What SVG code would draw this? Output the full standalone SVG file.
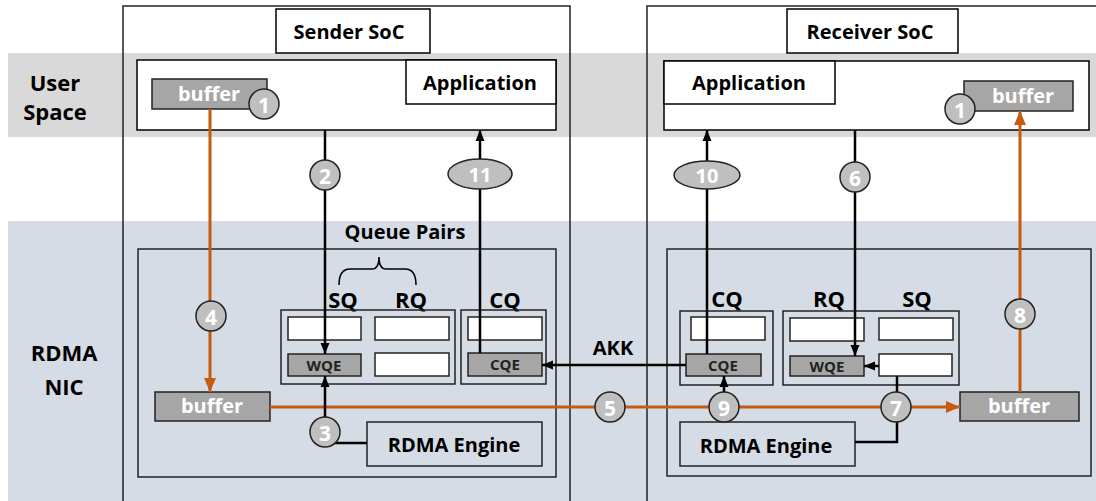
<svg xmlns="http://www.w3.org/2000/svg" width="1096" height="501" viewBox="0 0 1096 501">
<style>
text{font-family:"Open Sans","Liberation Sans",sans-serif;font-weight:bold;text-anchor:middle;dominant-baseline:central}
.lbl{font-size:20px;fill:#000}
.big{font-size:22px;fill:#000}
.small{font-size:15px;fill:#222}
.wt{font-size:20px;fill:#fff}
.nm{font-size:21px;fill:#fff}
.box{fill:#fff;stroke:#000;stroke-width:1.5}
.frame{fill:none;stroke:#222;stroke-width:1.5}
.gbox{fill:#a6a6a6;stroke:#222;stroke-width:1.5}
.wbox{fill:#fff;stroke:#222;stroke-width:1.5}
.num{fill:#bfbfbf;stroke:#222;stroke-width:1.5}
.blk{fill:none;stroke:#000;stroke-width:2.5}
.org{fill:none;stroke:#c55a11;stroke-width:3}
</style>
<defs>
<marker id="ab" markerUnits="userSpaceOnUse" markerWidth="11" markerHeight="10" refX="11" refY="5" orient="auto"><path d="M0,0.5 L11,5 L0,9.5 z" fill="#000"/></marker>
<marker id="ao" markerUnits="userSpaceOnUse" markerWidth="14" markerHeight="12" refX="14" refY="6" orient="auto"><path d="M0,0 L14,6 L0,12 z" fill="#c55a11"/></marker>
</defs>
<g id="bands">
<rect x="8" y="53" width="1088" height="84" fill="#d9d9d9"/>
<rect x="8" y="221" width="1088" height="280" fill="#d6dce5"/>
<text class="big" x="55" y="82">User</text>
<text class="big" x="55" y="111">Space</text>
<text class="big" x="64" y="352">RDMA</text>
<text class="big" x="64" y="386">NIC</text>
</g>
<g id="sender-soc">
<rect class="frame" x="123" y="6" width="447" height="500"/>
<rect class="box" x="276" y="9" width="154" height="44"/>
<text class="lbl" x="349" y="31">Sender SoC</text>
</g>
<g id="receiver-soc">
<rect class="frame" x="647" y="6" width="460" height="500"/>
<rect class="box" x="787" y="9" width="171" height="44"/>
<text class="lbl" x="870" y="31">Receiver SoC</text>
</g>
<g id="sender-user">
<rect class="box" x="137" y="60" width="419" height="70" stroke-width="2"/>
<rect class="box" x="406" y="60" width="150" height="44"/>
<text class="lbl" x="480" y="82">Application</text>
<rect class="gbox" x="152" y="79" width="115" height="30"/>
<text class="wt" x="209" y="93">buffer</text>
</g>
<g id="receiver-user">
<rect class="box" x="664" y="61" width="425" height="69" stroke-width="2"/>
<rect class="box" x="664" y="61" width="171" height="43"/>
<text class="lbl" x="749" y="82">Application</text>
<rect class="gbox" x="964" y="81" width="109" height="30"/>
<text class="wt" x="1023" y="95">buffer</text>
</g>
<g id="sender-nic">
<rect class="frame" x="138" y="249" width="418" height="228"/>
<text class="lbl" x="405" y="231">Queue Pairs</text>
<path d="M339,285 Q339,269 350,269 L372,269 Q379,269 379,257 Q379,269 386,269 L405,269 Q416,269 416,285" fill="none" stroke="#000" stroke-width="1.5"/>
<text class="big" x="343" y="299">SQ</text>
<text class="big" x="411" y="299">RQ</text>
<text class="big" x="505" y="299">CQ</text>
<rect class="frame" x="281" y="310" width="174" height="74"/>
<rect class="wbox" x="288" y="317" width="73" height="23"/>
<rect class="wbox" x="375" y="317" width="74" height="23"/>
<rect class="gbox" x="288" y="354" width="73" height="22"/>
<text class="small" x="324" y="365">WQE</text>
<rect class="wbox" x="375" y="353" width="74" height="23"/>
<rect class="frame" x="461" y="310" width="85" height="74"/>
<rect class="wbox" x="468" y="317" width="74" height="23"/>
<rect class="gbox" x="468" y="353" width="74" height="23"/>
<text class="small" x="505" y="364">CQE</text>
<rect class="gbox" x="155" y="392" width="115" height="29"/>
<text class="wt" x="212" y="405">buffer</text>
<rect class="frame" x="367" y="422" width="175" height="44"/>
<text class="lbl" x="454" y="444">RDMA Engine</text>
</g>
<g id="receiver-nic">
<rect class="frame" x="667" y="249" width="424" height="227"/>
<text class="big" x="727" y="298">CQ</text>
<text class="big" x="829" y="298">RQ</text>
<text class="big" x="917" y="298">SQ</text>
<rect class="frame" x="680" y="311" width="93" height="74"/>
<rect class="wbox" x="691" y="317" width="74" height="23"/>
<rect class="gbox" x="686" y="354" width="75" height="22"/>
<text class="small" x="723" y="365">CQE</text>
<rect class="frame" x="783" y="311" width="176" height="74"/>
<rect class="wbox" x="790" y="318" width="74" height="23"/>
<rect class="wbox" x="879" y="318" width="74" height="22"/>
<rect class="gbox" x="790" y="356" width="74" height="20"/>
<text class="small" x="827" y="366">WQE</text>
<rect class="wbox" x="879" y="354" width="73" height="22"/>
<rect class="gbox" x="960" y="392" width="119" height="29"/>
<text class="wt" x="1019" y="405">buffer</text>
<rect class="frame" x="680" y="422" width="175" height="44"/>
<text class="lbl" x="766" y="445">RDMA Engine</text>
</g>
<g id="connectors">
<line class="org" x1="210" y1="109" x2="210" y2="392" marker-end="url(#ao)"/>
<line class="org" x1="270" y1="407" x2="960" y2="407" marker-end="url(#ao)"/>
<line class="org" x1="1020" y1="392" x2="1020" y2="111" marker-end="url(#ao)"/>
<line class="blk" x1="325" y1="130" x2="325" y2="354" marker-end="url(#ab)"/>
<line class="blk" x1="480" y1="353" x2="480" y2="130" marker-end="url(#ab)"/>
<polyline class="blk" points="367,443 325,443 325,376" marker-end="url(#ab)"/>
<line class="blk" x1="686" y1="365" x2="542" y2="365" marker-end="url(#ab)"/>
<text class="lbl" x="613" y="347">AKK</text>
<line class="blk" x1="707" y1="354" x2="707" y2="130" marker-end="url(#ab)"/>
<line class="blk" x1="855" y1="130" x2="855" y2="356" marker-end="url(#ab)"/>
<line class="blk" x1="879" y1="366" x2="864" y2="366" marker-end="url(#ab)"/>
<polyline class="blk" points="897,376 897,442 855,442"/>
<line class="blk" x1="724" y1="422" x2="724" y2="376" marker-end="url(#ab)"/>
</g>
<g id="steps">
<circle class="num" cx="264" cy="104" r="15"/><text class="nm" x="264" y="105">1</text>
<circle class="num" cx="960" cy="109" r="15"/><text class="nm" x="960" y="110">1</text>
<circle class="num" cx="325" cy="175" r="15"/><text class="nm" x="325" y="176">2</text>
<circle class="num" cx="325" cy="432" r="15"/><text class="nm" x="325" y="433">3</text>
<circle class="num" cx="211" cy="316" r="15"/><text class="nm" x="211" y="317">4</text>
<circle class="num" cx="610" cy="407" r="15"/><text class="nm" x="610" y="408">5</text>
<circle class="num" cx="855" cy="177" r="15"/><text class="nm" x="855" y="178">6</text>
<circle class="num" cx="896" cy="407" r="15"/><text class="nm" x="896" y="408">7</text>
<circle class="num" cx="1020" cy="314" r="15"/><text class="nm" x="1020" y="315">8</text>
<circle class="num" cx="724" cy="407" r="15"/><text class="nm" x="724" y="408">9</text>
<ellipse class="num" cx="707" cy="175" rx="33" ry="14"/><text class="wt" x="707" y="175" font-size="14">10</text>
<ellipse class="num" cx="480" cy="174" rx="32" ry="15"/><text class="wt" x="480" y="174" font-size="14">11</text>
</g>
</svg>
